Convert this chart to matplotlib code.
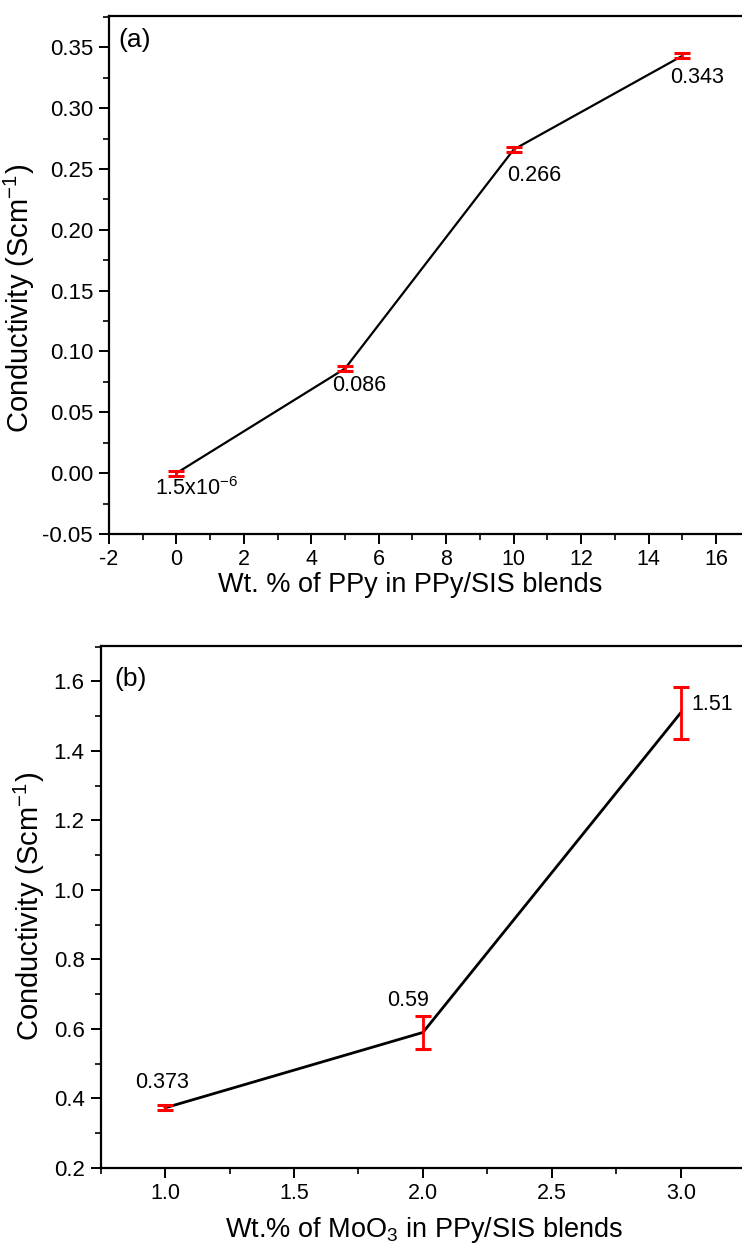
import matplotlib
matplotlib.use('Agg')
import matplotlib.pyplot as plt
from matplotlib.ticker import MultipleLocator, FormatStrFormatter

plt.rcParams['font.family'] = ['Liberation Sans', 'DejaVu Sans']
plt.rcParams['axes.unicode_minus'] = False

# panel (a) data
ppy_wt = [0, 5, 10, 15]
ppy_cond = [1.5e-6, 0.086, 0.266, 0.343]
ppy_err = [0.002, 0.002, 0.002, 0.002]
ppy_labels = ['1.5x10$^{\\mathregular{-6}}$', '0.086', '0.266', '0.343']

# panel (b) data
moo3_wt = [1.0, 2.0, 3.0]
moo3_cond = [0.373, 0.59, 1.51]
moo3_err = [0.007, 0.048, 0.075]
moo3_labels = ['0.373', '0.59', '1.51']

fig = plt.figure(figsize=(7.42, 12.47), dpi=100)
ax1 = fig.add_axes([0.1469, 0.5718, 1.0104 - 0.1469, 0.9874 - 0.5718])
ax2 = fig.add_axes([0.1357, 0.0634, 1.0043 - 0.1357, 0.4822 - 0.0634])

for ax in (ax1, ax2):
    for s in ax.spines.values():
        s.set_linewidth(1.6)
    ax.tick_params(which='major', direction='out', length=7, width=1.4, labelsize=16, pad=4.5)
    ax.tick_params(axis='x', which='major', labelsize=15.5, pad=4)
    ax.tick_params(which='minor', direction='out', length=4, width=1.2)
    ax.spines['right'].set_visible(False)

# (a)
ax1.plot(ppy_wt, ppy_cond, color='black', lw=1.6, zorder=2)
ax1.errorbar(ppy_wt, ppy_cond, yerr=ppy_err, fmt='none', ecolor='red',
             elinewidth=2, capsize=6, capthick=2.2, zorder=3)
ax1.set_xlim(-2, 17)
ax1.set_ylim(-0.05, 0.376)
ax1.xaxis.set_major_locator(MultipleLocator(2))
ax1.xaxis.set_minor_locator(MultipleLocator(1))
ax1.yaxis.set_major_locator(MultipleLocator(0.05))
ax1.yaxis.set_minor_locator(MultipleLocator(0.025))
ax1.yaxis.set_major_formatter(FormatStrFormatter('%.2f'))
ax1.set_xlabel('Wt. % of PPy in PPy/SIS blends', fontsize=19.5)
ax1.set_ylabel('Conductivity (Scm$^{\\mathregular{-1}}$)', fontsize=21)
ax1.xaxis.set_label_coords(0.4706, -0.074)
ax1.yaxis.set_label_coords(-0.112, 0.455)
ax1.text(0.014, 0.976, '(a)', transform=ax1.transAxes, fontsize=19, va='top', ha='left')
offs_a = [(-21, -4), (-13, -6), (-7, -15), (-12, -11)]
for x, y, t, o in zip(ppy_wt, ppy_cond, ppy_labels, offs_a):
    ax1.annotate(t, (x, y), xytext=o, textcoords='offset pixels',
                 ha='left', va='top', fontsize=15.5)

# (b)
ax2.plot(moo3_wt, moo3_cond, color='black', lw=2, zorder=2)
ax2.errorbar(moo3_wt, moo3_cond, yerr=moo3_err, fmt='none', ecolor='red',
             elinewidth=2, capsize=6, capthick=2.2, zorder=3)
ax2.set_xlim(0.75, 3.25)
ax2.set_ylim(0.2, 1.703)
ax2.xaxis.set_major_locator(MultipleLocator(0.5))
ax2.xaxis.set_minor_locator(MultipleLocator(0.25))
ax2.yaxis.set_major_locator(MultipleLocator(0.2))
ax2.yaxis.set_minor_locator(MultipleLocator(0.1))
ax2.yaxis.set_major_formatter(FormatStrFormatter('%.1f'))
ax2.xaxis.set_major_formatter(FormatStrFormatter('%.1f'))
ax2.set_xlabel('Wt.% of MoO$_{\\mathregular{3}}$ in PPy/SIS blends', fontsize=19.5)
ax2.set_ylabel('Conductivity (Scm$^{\\mathregular{-1}}$)', fontsize=21)
ax2.xaxis.set_label_coords(0.5016, -0.09)
ax2.yaxis.set_label_coords(-0.0833, 0.5)
ax2.text(0.022, 0.96, '(b)', transform=ax2.transAxes, fontsize=19, va='top', ha='left')
offs_b = [(-30, 20, 'left', 'baseline'), (-36, 26, 'left', 'baseline'), (11, 8, 'left', 'center')]
for x, y, t, o in zip(moo3_wt, moo3_cond, moo3_labels, offs_b):
    ax2.annotate(t, (x, y), xytext=(o[0], o[1]), textcoords='offset pixels',
                 ha=o[2], va=o[3], fontsize=15.5)

fig.savefig('out.png', dpi=100)
